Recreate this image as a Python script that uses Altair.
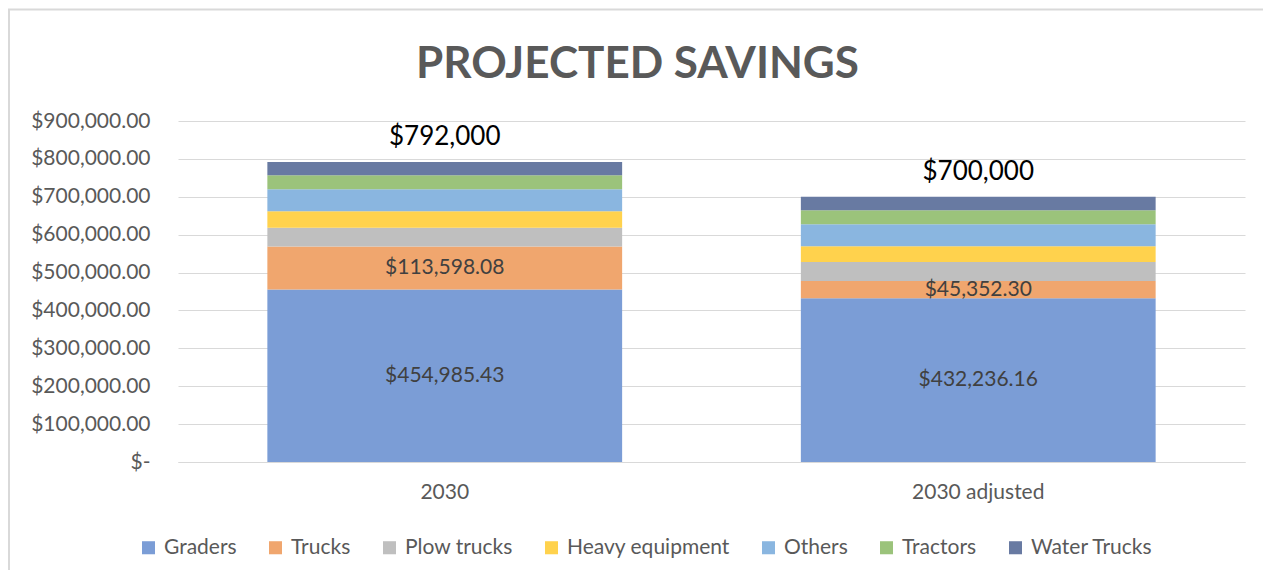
import altair as alt
import pandas as pd

categories = ["2030", "2030 adjusted"]
series = ["Graders", "Trucks", "Plow trucks", "Heavy equipment", "Others", "Tractors", "Water Trucks"]
colors = ["#7B9DD6", "#F0A66E", "#BFBFBF", "#FFD24D", "#8AB6E0", "#9BC37B", "#687AA2"]
values_2030 = [454985.43, 113598.08, 49800.00, 43200.00, 58100.00, 37000.00, 35316.49]
values_2030_adj = [432236.16, 45352.30, 50200.00, 41700.00, 58000.00, 37200.00, 35311.54]
labelled_series = ["Graders", "Trucks"]
y_ticks = [0, 100000, 200000, 300000, 400000, 500000, 600000, 700000, 800000, 900000]

rows = []
for cat, vals in zip(categories, [values_2030, values_2030_adj]):
    for i, (s, v) in enumerate(zip(series, vals)):
        rows.append({"cat": cat, "series": s, "value": v, "order": i,
                     "show": s in labelled_series})
df = pd.DataFrame(rows)

FONT = "Lato"
GRAY = "#595959"
FS = 21

base = alt.Chart(df)

x_scale = alt.Scale(paddingInner=0.335, paddingOuter=0.1675)
x_axis = alt.Axis(labelAngle=0, labelFontSize=FS, labelColor=GRAY, labelFont=FONT,
                  ticks=False, domainColor="#D9D9D9", domainWidth=1, labelPadding=19)
y_scale = alt.Scale(domain=[0, 900000], nice=False)
y_axis = alt.Axis(values=y_ticks, tickCount=10, labelFontSize=FS, labelColor=GRAY,
                  labelFont=FONT, ticks=False, domain=False, gridColor="#D9D9D9",
                  labelPadding=28, labelOverlap=False,
                  labelExpr="datum.value == 0 ? '$-  ' : '$' + format(datum.value, ',.2f')")

# outer chart frame edges (decoration): left and top lines, kept inside the canvas
frame_df = pd.DataFrame({"f": [0]})
frame_left = alt.Chart(frame_df).mark_rule(color="#D9D9D9", strokeWidth=2).encode(
    x=alt.value(-169), y=alt.value(-111.5), y2=alt.value(449))
frame_top = alt.Chart(frame_df).mark_rule(color="#D9D9D9", strokeWidth=2).encode(
    x=alt.value(-170), x2=alt.value(1085), y=alt.value(-111.5))

bars = base.mark_bar().encode(
    x=alt.X("cat:N", sort=categories, title=None, scale=x_scale, axis=x_axis),
    y=alt.Y("value:Q", stack="zero", title=None, scale=y_scale, axis=y_axis),
    color=alt.Color("series:N", sort=series,
                    scale=alt.Scale(domain=series, range=colors),
                    legend=alt.Legend(title=None, orient="none", direction="horizontal",
                                      legendX=-40, legendY=416,
                                      labelFontSize=FS, labelColor=GRAY, labelFont=FONT,
                                      labelLimit=0,
                                      symbolType="square", symbolSize=170,
                                      symbolStrokeWidth=0, columnPadding=28,
                                      labelOffset=5)),
    order=alt.Order("order:Q", sort="ascending"),
)

labels = base.transform_window(
    cum="sum(value)", groupby=["cat"], sort=[alt.SortField("order")], frame=[None, 0]
).transform_calculate(
    mid="datum.cum - datum.value / 2"
).transform_filter("datum.show").mark_text(
    fontSize=FS, color="#404040", font=FONT
).encode(
    x=alt.X("cat:N", sort=categories, title=None, scale=x_scale, axis=x_axis),
    y=alt.Y("mid:Q", title=None, scale=y_scale, axis=y_axis),
    text=alt.Text("value:Q", format="$,.2f"),
)

totals = base.transform_aggregate(
    total="sum(value)", groupby=["cat"]
).mark_text(fontSize=26, color="black", font=FONT, dy=-25).encode(
    x=alt.X("cat:N", sort=categories, title=None, scale=x_scale, axis=x_axis),
    y=alt.Y("total:Q", title=None, scale=y_scale, axis=y_axis),
    text=alt.Text("total:Q", format="$,.0f"),
)

chart = alt.layer(frame_left, frame_top, bars, labels, totals).properties(
    width=1067, height=341,
    autosize=alt.AutoSizeParams(type="none"),
    padding={"left": 170, "top": 113, "right": 18, "bottom": 108},
    title=alt.TitleParams("PROJECTED SAVINGS", fontSize=44, fontWeight="bold",
                          color=GRAY, font=FONT, anchor="middle", offset=-78, dx=-74),
).configure_view(stroke=None)

chart.save("out.html", embed_options={"renderer": "svg", "actions": False})
